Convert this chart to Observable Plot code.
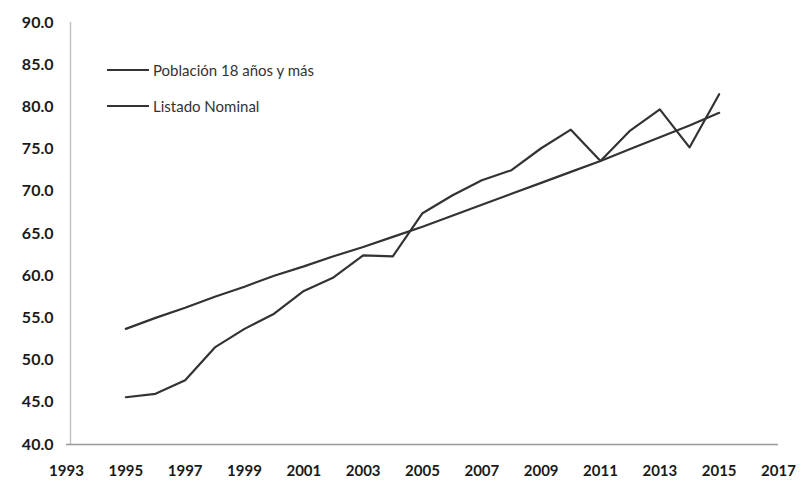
<!DOCTYPE html>
<html>
<head>
<meta charset="utf-8">
<script src="https://cdn.jsdelivr.net/npm/d3@7"></script>
<script src="https://cdn.jsdelivr.net/npm/@observablehq/plot@0.6"></script>
<style>
  body { margin: 0; background: #fff; }
  #wrap { position: relative; width: 805px; height: 489px; font-family: Lato, "Open Sans", sans-serif; }
  #legend { position: absolute; left: 107px; top: 58px; font-size: 15px; color: #333; }
  #legend .item { display: flex; align-items: center; height: 24px; margin-bottom: 12px; }
  #legend .sw { width: 42px; height: 2px; background: #333; margin-right: 4px; }
</style>
</head>
<body>
<div id="wrap">
  <div id="chart"></div>
  <div id="legend"></div>
</div>
<script>
const years = [1995,1996,1997,1998,1999,2000,2001,2002,2003,2004,2005,2006,2007,2008,2009,2010,2011,2012,2013,2014,2015];
const poblacion = [53.7,55.0,56.2,57.5,58.7,60.0,61.1,62.3,63.4,64.6,65.8,67.1,68.4,69.7,71.0,72.3,73.6,75.0,76.4,77.8,79.3];
const listado = [45.6,46.0,47.6,51.5,53.7,55.5,58.2,59.8,62.4,62.3,67.4,69.5,71.3,72.5,75.1,77.3,73.6,77.2,79.7,75.2,81.5];
const seriesNames = ["Población 18 años y más", "Listado Nominal"];
const xTicks = [1993,1995,1997,1999,2001,2003,2005,2007,2009,2011,2013,2015,2017];
const yTicks = [40,45,50,55,60,65,70,75,80,85,90];

const data = [];
years.forEach((y, i) => {
  data.push({year: y, value: poblacion[i], serie: seriesNames[0]});
  data.push({year: y, value: listado[i], serie: seriesNames[1]});
});

const chart = Plot.plot({
  width: 805,
  height: 489,
  marginLeft: 66,
  marginRight: 27,
  marginTop: 22,
  marginBottom: 45,
  style: {fontFamily: "Lato, 'Open Sans', sans-serif", color: "#222", background: "#fff"},
  x: {domain: [1993, 2017], ticks: xTicks, tickFormat: d => String(d), label: null},
  y: {domain: [40, 90], ticks: yTicks, tickFormat: d => d.toFixed(1), label: null},
  marks: [
    Plot.ruleX([1993], {stroke: "#c4c4c4", strokeWidth: 1.5, dx: 4}),
    Plot.ruleY([40], {stroke: "#999", strokeWidth: 1.5}),
    Plot.axisY({ticks: yTicks, tickFormat: d => d.toFixed(1), tickSize: 0, tickPadding: 13, fontSize: 16, fontWeight: "bold", fill: "#1a1a1a", label: null}),
    Plot.axisX({ticks: xTicks, tickFormat: d => String(d), tickSize: 0, tickPadding: 21, fontSize: 15, fontWeight: "bold", fill: "#1a1a1a", label: null}),
    Plot.line(data, {x: "year", y: "value", z: "serie", stroke: "#333", strokeWidth: 2.2})
  ]
});
document.getElementById("chart").appendChild(chart);

const legend = document.getElementById("legend");
seriesNames.forEach(n => {
  const it = document.createElement("div");
  it.className = "item";
  it.innerHTML = `<span class="sw"></span><span>${n}</span>`;
  legend.appendChild(it);
});
</script>
</body>
</html>
